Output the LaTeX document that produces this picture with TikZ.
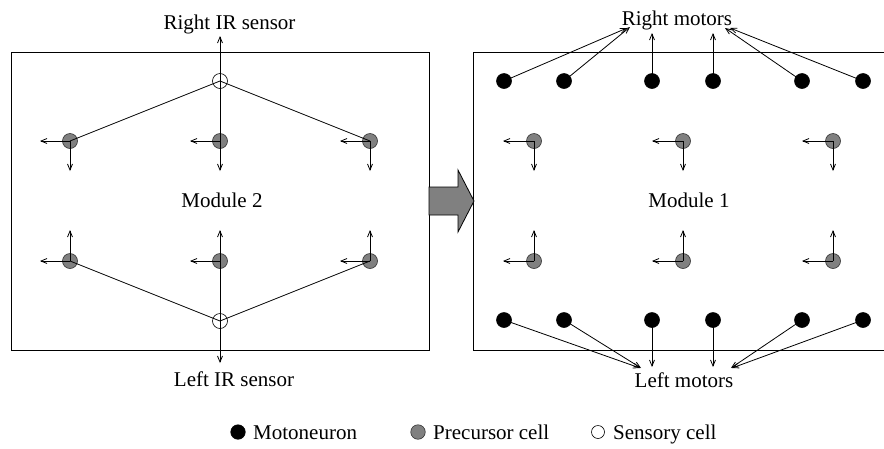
\documentclass[tikz,border=0pt]{standalone}
\usepackage{fontspec}
\setmainfont{Liberation Serif}
\usetikzlibrary{arrows.meta}
\begin{document}
\begin{tikzpicture}[x=1pt,y=-1pt,
  lbl/.style={font=\fontsize{21}{25}\selectfont, inner sep=0pt, anchor=base},
  leg/.style={font=\fontsize{21}{25}\selectfont, inner sep=0pt, anchor=base west},
  ln/.style={line width=0.8pt},
  arr/.style={line width=0.8pt, -{Straight Barb[length=6pt,width=5pt]}},
  moto/.style={circle, fill=black, draw=black, line width=0.6pt, minimum size=15pt, inner sep=0pt},
  prec/.style={circle, fill=black!50, draw=black!80, line width=0.6pt, minimum size=15pt, inner sep=0pt},
  sens/.style={circle, fill=white, draw=black, line width=0.6pt, minimum size=15pt, inner sep=0pt}]
\useasboundingbox (0,0) rectangle (884,448);
% boxes
\draw[ln] (11,52) rectangle (429,350);
\draw[ln] (884,52) -- (473,52) -- (473,350) -- (884,350);
% big arrow
\draw[line width=0.8pt, fill=black!50] (429,187) -- (458,187) -- (458,170) -- (474,201) -- (458,232) -- (458,215) -- (429,215) -- cycle;
% ---------- Module 2 ----------
\node[sens] (sT) at (220,81) {};
\node[sens] (sB) at (220,321) {};
\node[prec] (a1) at (70,141) {};
\node[prec] (a2) at (220,141) {};
\node[prec] (a3) at (370,141) {};
\node[prec] (b1) at (70,261) {};
\node[prec] (b2) at (220,261) {};
\node[prec] (b3) at (370,261) {};
\coordinate (rir) at (220,36);
\coordinate (lir) at (220,363);
\foreach \n/\x in {a1/70,a2/220,a3/370}{
  \coordinate (\n l) at (\x-30,141);
  \coordinate (\n d) at (\x,171);
}
\foreach \n/\x in {b1/70,b2/220,b3/370}{
  \coordinate (\n l) at (\x-30,261);
  \coordinate (\n u) at (\x,230);
}
\draw[ln] (sT.center) -- (a1.center);
\draw[ln] (sT.center) -- (a2.center);
\draw[ln] (sT.center) -- (a3.center);
\draw[ln] (sB.center) -- (b1.center);
\draw[ln] (sB.center) -- (b2.center);
\draw[ln] (sB.center) -- (b3.center);
\draw[arr] (sT.center) -- (rir);
\draw[arr] (sB.center) -- (lir);
\foreach \n in {a1,a2,a3}{
  \draw[arr] (\n.center) -- (\n l);
  \draw[arr] (\n.center) -- (\n d);
}
\foreach \n in {b1,b2,b3}{
  \draw[arr] (\n.center) -- (\n l);
  \draw[arr] (\n.center) -- (\n u);
}
\node[lbl] (tRIR) at (229.5,29) {Right IR sensor};
\node[lbl] (tM2) at (222,207) {Module 2};
\node[lbl] (tLIR) at (234,386) {Left IR sensor};
% ---------- Module 1 ----------
\foreach \n/\x in {1/504,2/564,3/652,4/713,5/802,6/863}{
  \node[moto] (m\n) at (\x,81) {};
  \node[moto] (n\n) at (\x,320) {};
}
\foreach \n/\x in {1/534,2/683,3/833}{
  \node[prec] (c\n) at (\x,141) {};
  \node[prec] (d\n) at (\x,261) {};
  \coordinate (c\n l) at (\x-31,141);
  \coordinate (c\n d) at (\x,171);
  \coordinate (d\n l) at (\x-31,261);
  \coordinate (d\n u) at (\x,230);
  \draw[arr] (c\n.center) -- (c\n l);
  \draw[arr] (c\n.center) -- (c\n d);
  \draw[arr] (d\n.center) -- (d\n l);
  \draw[arr] (d\n.center) -- (d\n u);
}
\coordinate (r1) at (627,28);
\coordinate (r2) at (630,27);
\coordinate (r3) at (652,33);
\coordinate (r4) at (713,33);
\coordinate (r5) at (725,28);
\coordinate (r6) at (730,28);
\coordinate (l1) at (640,368);
\coordinate (l2) at (641,368);
\coordinate (l3) at (652,367);
\coordinate (l4) at (713,367);
\coordinate (l5) at (731,368);
\coordinate (l6) at (732,368);
\foreach \i in {1,...,6}{
  \draw[arr] (m\i.center) -- (r\i);
  \draw[arr] (n\i.center) -- (l\i);
}
\node[lbl] (tRM) at (677,25) {Right motors};
\node[lbl] (tM1) at (689,207) {Module 1};
\node[lbl] (tLM) at (684,387) {Left motors};
% ---------- legend ----------
\node[moto, minimum size=14.5pt] (gm) at (238,432) {};
\node[prec, minimum size=14.5pt] (gp) at (418,432) {};
\node[sens, minimum size=13pt] (gs) at (598,432) {};
\node[leg] (tgm) at (253,439) {Motoneuron};
\node[leg] (tgp) at (433,439) {Precursor cell};
\node[leg] (tgs) at (613,439) {Sensory cell};
\end{tikzpicture}
\end{document}
